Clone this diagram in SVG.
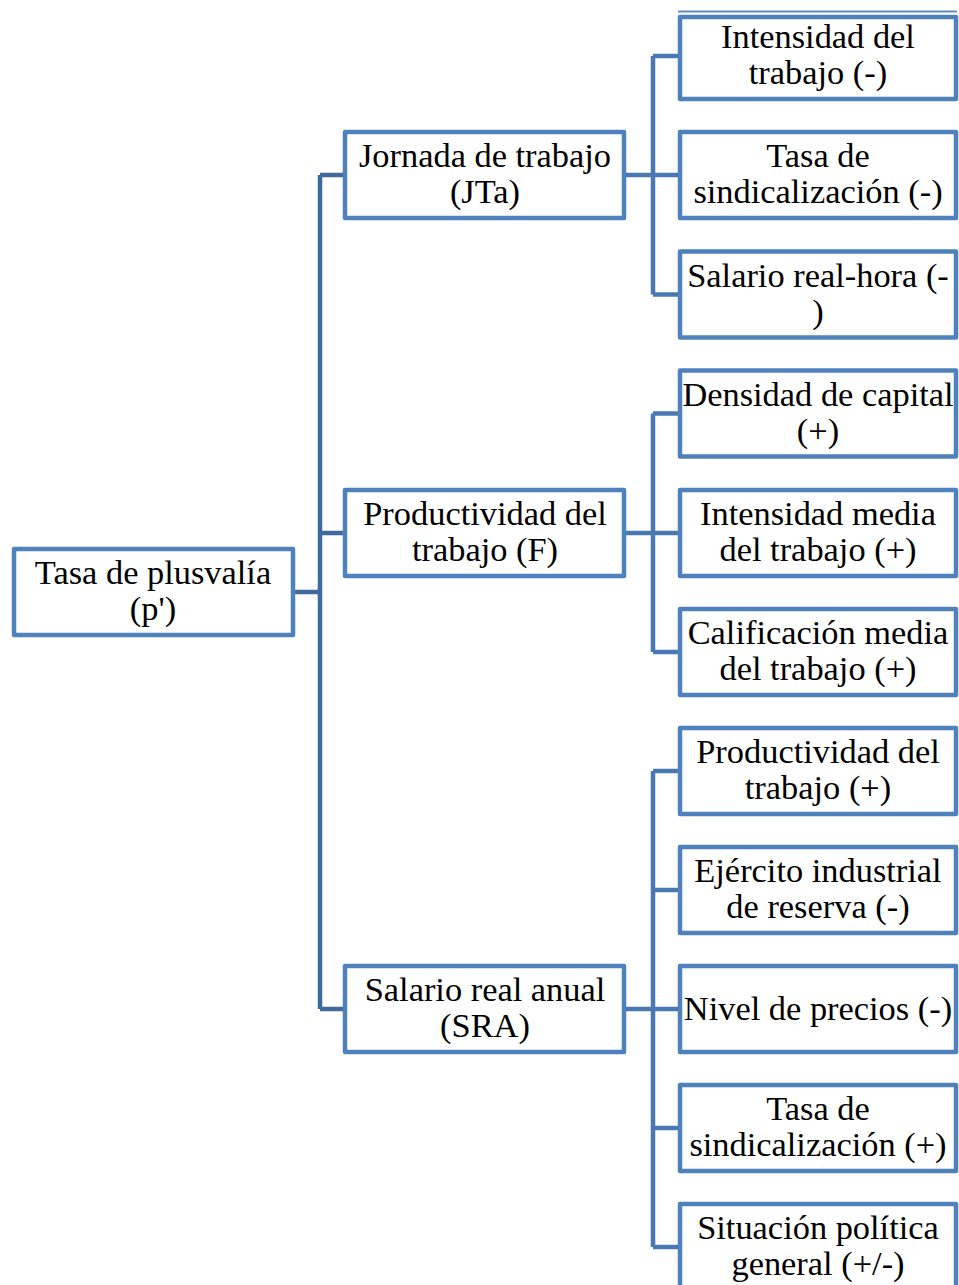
<svg xmlns="http://www.w3.org/2000/svg" width="959" height="1285" viewBox="0 0 959 1285">
<style>
.box{fill:#ffffff;stroke:#4F81BD;stroke-width:4.5;stroke-linejoin:round}
.t{font-family:"Liberation Serif","Times New Roman",serif;font-size:34.4px;fill:#000;text-anchor:middle}
.c{fill:none;stroke:#4A78B2;stroke-width:4.5;stroke-linejoin:round}
.c2{fill:none;stroke:#3F6A9F;stroke-width:4.5;stroke-linejoin:round}
</style>
<rect width="959" height="1285" fill="#ffffff"/>
<g id="connectors">
<path class="c2" d="M293 592H320M320 175V1009M320 175H345M320 533H345M320 1009H345"/>
<path class="c" d="M626 175H653M653 56V294.5M653 56H678M653 175H678M653 294.5H678"/>
<path class="c" d="M626 533H653M653 413.5V652M653 413.5H678M653 533H678M653 652H678"/>
<path class="c" d="M626 1009H653M653 771V1247M653 771H678M653 890H678M653 1009H678M653 1128H678M653 1247H678"/>
</g>
<g id="n-root"><rect class="box" x="14" y="549" width="279" height="86"/><text class="t" x="153" y="584">Tasa de plusvalía</text><text class="t" x="153" y="620">(p')</text></g>
<g id="n-jta"><rect class="box" x="345" y="132" width="279" height="86"/><text class="t" x="485" y="167">Jornada de trabajo</text><text class="t" x="485" y="203">(JTa)</text></g>
<g id="n-f"><rect class="box" x="345" y="490" width="279" height="86"/><text class="t" x="485" y="525">Productividad del</text><text class="t" x="485" y="561">trabajo (F)</text></g>
<g id="n-sra"><rect class="box" x="345" y="966" width="279" height="86"/><text class="t" x="485" y="1001">Salario real anual</text><text class="t" x="485" y="1037">(SRA)</text></g>
<g id="n-r1"><line x1="678" y1="11.5" x2="957" y2="11.5" stroke="#5F8CC6" stroke-width="2"/><rect class="box" x="680" y="17" width="276" height="82"/><text class="t" x="818" y="48">Intensidad del</text><text class="t" x="818" y="84">trabajo (-)</text></g>
<g id="n-r2"><rect class="box" x="680" y="132" width="276" height="86"/><text class="t" x="818" y="167">Tasa de</text><text class="t" x="818" y="203">sindicalización (-)</text></g>
<g id="n-r3"><rect class="box" x="680" y="251.5" width="276" height="86"/><text class="t" x="818" y="287">Salario real-hora (-</text><text class="t" x="818" y="323">)</text></g>
<g id="n-r4"><rect class="box" x="680" y="370.5" width="276" height="86"/><text class="t" x="818" y="406">Densidad de capital</text><text class="t" x="818" y="442">(+)</text></g>
<g id="n-r5"><rect class="box" x="680" y="490" width="276" height="86"/><text class="t" x="818" y="525">Intensidad media</text><text class="t" x="818" y="561">del trabajo (+)</text></g>
<g id="n-r6"><rect class="box" x="680" y="609" width="276" height="86"/><text class="t" x="818" y="644">Calificación media</text><text class="t" x="818" y="680">del trabajo (+)</text></g>
<g id="n-r7"><rect class="box" x="680" y="728" width="276" height="86"/><text class="t" x="818" y="763">Productividad del</text><text class="t" x="818" y="799">trabajo (+)</text></g>
<g id="n-r8"><rect class="box" x="680" y="847" width="276" height="86"/><text class="t" x="818" y="882">Ejército industrial</text><text class="t" x="818" y="918">de reserva (-)</text></g>
<g id="n-r9"><rect class="box" x="680" y="966" width="276" height="86"/><text class="t" x="818" y="1020">Nivel de precios (-)</text></g>
<g id="n-r10"><rect class="box" x="680" y="1085" width="276" height="86"/><text class="t" x="818" y="1120">Tasa de</text><text class="t" x="818" y="1156">sindicalización (+)</text></g>
<g id="n-r11"><rect class="box" x="680" y="1204" width="276" height="86"/><text class="t" x="818" y="1239">Situación política</text><text class="t" x="818" y="1275">general (+/-)</text></g>
</svg>
